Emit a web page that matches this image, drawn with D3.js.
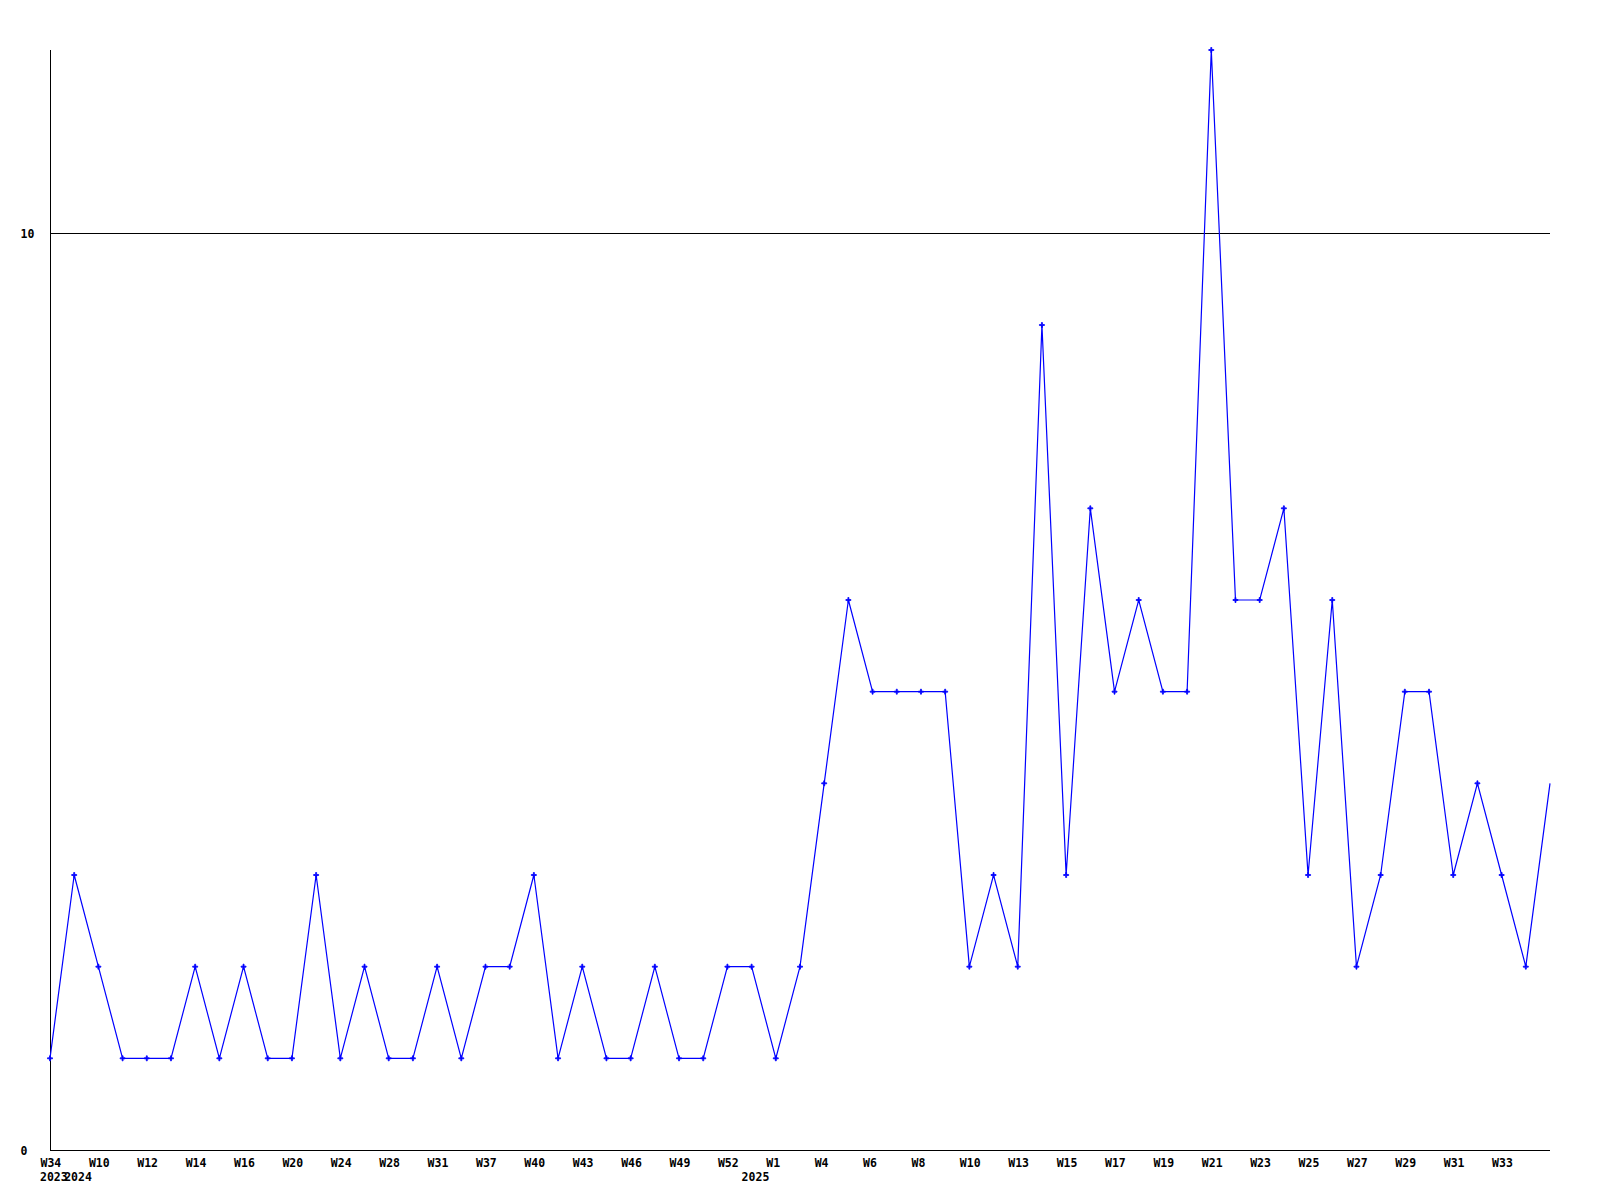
<!DOCTYPE html>
<html>
<head>
<meta charset="utf-8">
<script src="https://cdn.jsdelivr.net/npm/d3@7"></script>
<style>
  html, body { margin: 0; padding: 0; background: #fff; }
  svg text { font-family: "DejaVu Sans Mono", "Liberation Mono", monospace; font-weight: bold; font-size: 11.5px; fill: #000; }
</style>
</head>
<body>
<svg id="chart" width="1600" height="1200"></svg>
<script>
const values = [1,3,2,1,1,1,2,1,2,1,1,3,1,2,1,1,2,1,2,2,3,1,2,1,1,2,1,1,2,2,1,2,4,6,5,5,5,5,2,3,2,9,3,7,5,6,5,5,12,6,6,7,3,6,2,3,5,5,3,4,3,2,4];
const xTickIdx = [0,2,4,6,8,10,12,14,16,18,20,22,24,26,28,30,32,34,36,38,40,42,44,46,48,50,52,54,56,58,60];
const xTickLabels = ["W34","W10","W12","W14","W16","W20","W24","W28","W31","W37","W40","W43","W46","W49","W52","W1","W4","W6","W8","W10","W13","W15","W17","W19","W21","W23","W25","W27","W29","W31","W33"];
const yearIdx = [0,1,29];
const yearLabels = ["2023","2024","2025"];
const yTicks = [0,10];

const svg = d3.select("#chart");
const x = d3.scaleLinear().domain([0, values.length - 1]).range([50, 1550]);
const y = d3.scaleLinear().domain([0, 12]).range([1150, 50]);

// gridline at 10
svg.append("g").selectAll("line").data([10]).join("line")
  .attr("x1", x(0)).attr("x2", x(values.length - 1))
  .attr("y1", d => Math.round(y(d)) + 0.5).attr("y2", d => Math.round(y(d)) + 0.5)
  .attr("stroke", "#000").attr("stroke-width", 1).attr("shape-rendering", "crispEdges");

// x axis
const xAxis = svg.append("g").attr("transform", `translate(0,${y(0) + 0.5})`)
  .call(d3.axisBottom(x).tickValues(xTickIdx).tickSize(0)
    .tickFormat((d, i) => xTickLabels[i]));
xAxis.select(".domain").attr("stroke", "#000").attr("shape-rendering", "crispEdges")
  .attr("d", `M${x(0)},0H${x(values.length - 1)}`);
xAxis.selectAll("text").attr("text-anchor", "start").attr("dx", -10).attr("y", 16).attr("dy", 0)
  .attr("font-family", null).attr("font-size", null);

// year labels
svg.append("g").selectAll("text").data(yearIdx).join("text")
  .attr("x", d => x(d) - 10).attr("y", 1181)
  .text((d, i) => yearLabels[i]);

// y axis
const yAxis = svg.append("g").attr("transform", `translate(${x(0) + 0.5},0)`)
  .call(d3.axisLeft(y).tickValues(yTicks).tickSize(0).tickFormat(d3.format("d")));
yAxis.select(".domain").attr("stroke", "#000").attr("shape-rendering", "crispEdges")
  .attr("d", `M0,${y(12)}V${y(0)}`);
yAxis.selectAll("text").attr("text-anchor", "start").attr("x", -30).attr("dy", "0.35em")
  .attr("font-family", null).attr("font-size", null);

// line
svg.append("path").datum(values)
  .attr("fill", "none").attr("stroke", "#0000ff").attr("stroke-width", 1.2)
  .attr("d", d3.line().x((d, i) => x(i)).y(d => y(d)));

// markers
svg.append("g").selectAll("path").data(values.slice(0, values.length - 1)).join("path")
  .attr("transform", (d, i) => `translate(${x(i)},${y(d)})`)
  .attr("d", "M-2.5,-0.5H-0.5V-2.5H0.5V-0.5H2.5V0.5H0.5V2.5H-0.5V0.5H-2.5Z")
  .attr("fill", "#0000ff").attr("stroke", "#0000ff").attr("stroke-width", 0.8);
</script>
</body>
</html>
